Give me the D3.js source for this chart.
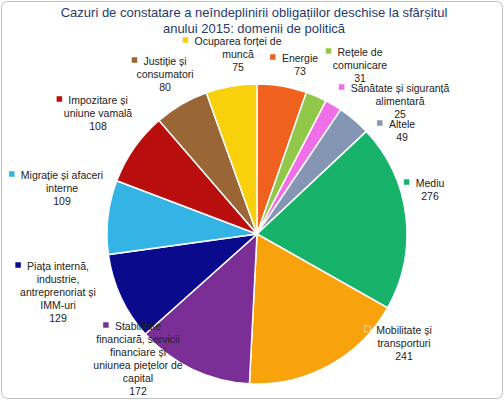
<!DOCTYPE html>
<html>
<head>
<meta charset="utf-8">
<title>pie</title>
<style>body{margin:0;background:#fff}</style>
</head>
<body>
<div id="chart"></div>
<script src="https://cdn.jsdelivr.net/npm/d3@7"></script>
<script>
// data, clockwise from 12 o'clock
var categories = ['Energie', 'Rețele de comunicare', 'Sănătate și siguranță alimentară', 'Altele', 'Mediu',
    'Mobilitate și transporturi', 'Stabilitate financiară, servicii financiare și uniunea piețelor de capital',
    'Piața internă, industrie, antreprenoriat și IMM-uri', 'Migrație și afaceri interne',
    'Impozitare și uniune vamală', 'Justiție și consumatori', 'Ocuparea forței de muncă'];
var values = [73, 31, 25, 49, 276, 241, 172, 129, 109, 108, 80, 75];
var colors = ['#F0601E', '#92C84A', '#F06EE8', '#8496B4', '#17B36B', '#F8A20C', '#7A2E96',
    '#0A0A8C', '#33B4E4', '#B80E0E', '#9A6636', '#F8D00C'];
// label text lines + placement (layout only)
var labelLines = [
    ['Energie', '73'], ['Rețele de', 'comunicare', '31'], ['Sănătate și siguranță', 'alimentară', '25'],
    ['Altele', '49'], ['Mediu', '276'], ['Mobilitate și', 'transporturi', '241'],
    ['Stabilitate', 'financiară, servicii', 'financiare și', 'uniunea piețelor de', 'capital', '172'],
    ['Piața internă,', 'industrie,', 'antreprenoriat și', 'IMM-uri', '129'],
    ['Migrație și afaceri', 'interne', '109'], ['Impozitare și', 'uniune vamală', '108'],
    ['Justiție și', 'consumatori', '80'], ['Ocuparea forței de', 'muncă', '75']];
var labelPos = [[300, 62], [360, 56], [400, 92], [402, 128], [430, 187], [404, 334],
    [138, 330], [58, 270], [62, 179], [98, 104], [165, 65], [238, 45]];

var W = 504, H = 400, cx = 257, cy = 234, R = 150, LH = 13;

var svg = d3.select('#chart').append('svg').attr('width', W).attr('height', H)
    .style('font-family', '"Liberation Sans", Arial, sans-serif');

svg.append('rect').attr('x', 1.5).attr('y', 1.5).attr('width', W - 3).attr('height', H - 3)
    .attr('rx', 6).attr('fill', '#fff').attr('stroke', '#bfbfbf');

svg.append('text').attr('x', 254).attr('text-anchor', 'middle').attr('fill', '#1F3A6E')
    .style('font-size', '13px')
    .selectAll('tspan').data(['Cazuri de constatare a neîndeplinirii obligațiilor deschise la sfârșitul', 'anului  2015: domenii de politică'])
    .join('tspan').attr('x', 254).attr('y', (d, i) => 17 + i * 16).text(d => d);

var pie = d3.pie().sort(null).value(d => d)(values);
var arc = d3.arc().innerRadius(0).outerRadius(R);

svg.append('g').attr('transform', 'translate(' + cx + ',' + cy + ')')
    .selectAll('path').data(pie).join('path')
    .attr('d', arc).attr('fill', (d, i) => colors[i])
    .attr('stroke', '#fff').attr('stroke-width', 1.5);

var lab = svg.append('g').selectAll('g').data(labelLines).join('g')
    .attr('transform', (d, i) => 'translate(' + labelPos[i][0] + ',' + labelPos[i][1] + ')');

lab.append('text').attr('text-anchor', 'middle').style('font-size', '10.5px').attr('fill', '#222')
    .each(function (d) {
        d3.select(this).selectAll('tspan').data(d).join('tspan')
            .attr('x', 0).attr('y', (t, j) => j * LH).text(t => t);
    });

lab.each(function (d, i) {
    var w = this.querySelector('tspan').getComputedTextLength();
    d3.select(this).append('rect').attr('x', -w / 2 - 12).attr('y', -8).attr('width', 6).attr('height', 6)
        .attr('fill', colors[i]).attr('stroke', '#fff').attr('stroke-width', 0.5);
});
</script>
</body>
</html>
